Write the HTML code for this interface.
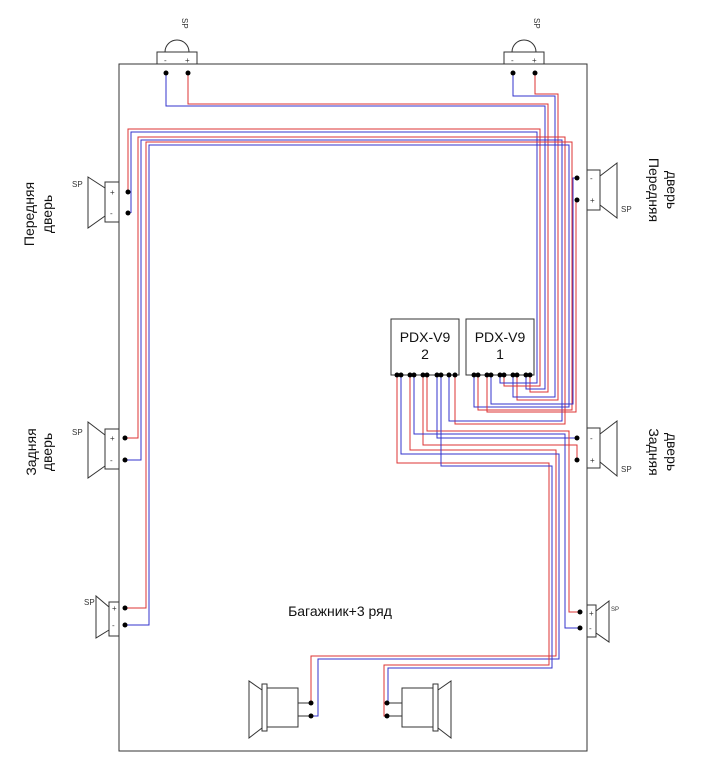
<!DOCTYPE html>
<html><head><meta charset="utf-8"><style>
body{margin:0;background:#fff}
svg{display:block;font-family:"Liberation Sans",sans-serif}
</style></head><body>
<svg width="706" height="769" viewBox="0 0 706 769" xmlns="http://www.w3.org/2000/svg">
<g fill="none" stroke="#333" stroke-width="1">
<rect x="119" y="64" width="468" height="687"/>
<!-- top tweeters -->
<rect x="157" y="52" width="40" height="12" fill="#fff"/>
<path d="M165 52 A12 12 0 0 1 189 52"/>
<rect x="504" y="52" width="40" height="12" fill="#fff"/>
<path d="M512 52 A12 12 0 0 1 536 52"/>
<!-- left front -->
<rect x="105" y="182" width="14" height="40" fill="#fff"/>
<path d="M105 188 L88 177 L88 228 L105 216"/>
<!-- left rear -->
<rect x="105" y="429" width="14" height="40" fill="#fff"/>
<path d="M105 435 L88 422 L88 478 L105 466"/>
<!-- left 3 -->
<rect x="109" y="602" width="10" height="34" fill="#fff"/>
<path d="M109 607 L96 596 L96 638 L109 630"/>
<!-- right front -->
<rect x="587" y="170" width="13" height="40" fill="#fff"/>
<path d="M600 176 L617 163 L617 218 L600 205"/>
<!-- right rear -->
<rect x="587" y="428" width="13" height="40" fill="#fff"/>
<path d="M600 434 L617 421 L617 476 L600 462"/>
<!-- right 3 -->
<rect x="587" y="605" width="9" height="32" fill="#fff"/>
<path d="M596 611 L609 601 L609 642 L596 633"/>
<!-- bottom trunk -->
<rect x="267" y="688" width="31" height="39" fill="#fff"/>
<rect x="262" y="684" width="5" height="47" fill="#fff"/>
<path d="M262 690 L249 681 L249 738 L262 728"/>
<path d="M298 703 H311 M298 716 H311"/>
<rect x="402" y="688" width="31" height="39" fill="#fff"/>
<rect x="433" y="684" width="5" height="47" fill="#fff"/>
<path d="M438 690 L451 681 L451 738 L438 728"/>
<path d="M387 703 H402 M387 716 H402"/>
<!-- PDX boxes -->
<rect x="391" y="319" width="68" height="56" fill="#fff"/>
<rect x="466" y="319" width="68" height="56" fill="#fff"/>
</g>
<g font-size="8" fill="#333">
<text x="164" y="63">-</text><text x="185" y="63">+</text>
<text x="511" y="63">-</text><text x="532" y="63">+</text>
<text x="110" y="195">+</text><text x="110" y="216">-</text>
<text x="110" y="441">+</text><text x="110" y="463">-</text>
<text x="112" y="611">+</text><text x="112" y="628">-</text>
<text x="590" y="181">-</text><text x="590" y="203">+</text>
<text x="590" y="441">-</text><text x="590" y="463">+</text>
<text x="589" y="616">+</text><text x="589" y="631">-</text>
</g>
<g font-size="8" fill="#333">
<text x="72" y="187">SP</text><text x="72" y="435">SP</text><text x="84" y="605">SP</text>
<text x="621" y="212">SP</text><text x="621" y="472">SP</text><text x="611" y="611" font-size="6">SP</text>
<text transform="translate(182,18) rotate(90)">SP</text>
<text transform="translate(534,18) rotate(90)">SP</text>
</g>
<g font-size="14" fill="#111" text-anchor="middle">
<text x="425" y="342">PDX-V9</text><text x="425" y="359">2</text>
<text x="500" y="342">PDX-V9</text><text x="500" y="359">1</text>
<text x="340" y="616">Багажник+3 ряд</text>
<text transform="translate(34,214) rotate(-90)">Передняя</text>
<text transform="translate(52,214) rotate(-90)">дверь</text>
<text transform="translate(36,452) rotate(-90)">Задняя</text>
<text transform="translate(52,452) rotate(-90)">дверь</text>
<text transform="translate(649,190) rotate(90)">Передняя</text>
<text transform="translate(667,190) rotate(90)">дверь</text>
<text transform="translate(649,452) rotate(90)">Задняя</text>
<text transform="translate(667,452) rotate(90)">дверь</text>
</g>
<g fill="none" stroke-width="1">
<!-- top-left tweeter -> PDX1 -->
<path stroke="#d33" d="M188 73 V104 H548 V392 H530 V375"/>
<path stroke="#33c" d="M166 73 V106 H545 V389 H526 V375"/>
<!-- top-right tweeter -->
<path stroke="#d33" d="M535 73 V94 H558 V400 H517 V375"/>
<path stroke="#33c" d="M513 73 V96 H555 V397 H513 V375"/>
<!-- left front -->
<path stroke="#d33" d="M128 192 V129 H540 V386 H504 V375"/>
<path stroke="#33c" d="M131 213 V132 H537 V383 H500 V375"/>
<!-- left rear -->
<path stroke="#d33" d="M125 438 H138 V137 H565 V424 H455 V375"/>
<path stroke="#33c" d="M125 460 H141 V140 H562 V421 H449 V375"/>
<!-- left 3 -->
<path stroke="#d33" d="M125 608 H146 V142 H572 V410 H478 V375"/>
<path stroke="#33c" d="M125 625 H149 V145 H569 V407 H474 V375"/>
<!-- right front -->
<path stroke="#33c" d="M577 178 H573 V404 H491 V375" />
<path stroke="#d33" d="M577 200 H576 V412 H487 V375"/>
<!-- right rear -->
<path stroke="#33c" d="M577 438 H437 V375"/>
<path stroke="#d33" d="M577 460 V445 H423 V375"/>
<!-- right 3 -->
<path stroke="#d33" d="M580 612 H569 V431 H427 V375"/>
<path stroke="#33c" d="M580 628 H565 V434 H414 V375"/>
<!-- trunk left -->
<path stroke="#d33" d="M311 703 V656 H556 V450 H410 V375"/>
<path stroke="#33c" d="M311 716 H318 V659 H559 V454 H401 V375"/>
<!-- trunk right -->
<path stroke="#d33" d="M387 716 H384 V665 H549 V463 H397 V375"/>
<path stroke="#33c" d="M387 703 H388 V668 H552 V466 H441 V375"/>
</g>
<g fill="#000">
<circle cx="166" cy="73" r="2.5"/><circle cx="188" cy="73" r="2.5"/>
<circle cx="513" cy="73" r="2.5"/><circle cx="535" cy="73" r="2.5"/>
<circle cx="128" cy="192" r="2.5"/><circle cx="128" cy="213" r="2.5"/>
<circle cx="125" cy="438" r="2.5"/><circle cx="125" cy="460" r="2.5"/>
<circle cx="125" cy="608" r="2.5"/><circle cx="125" cy="625" r="2.5"/>
<circle cx="577" cy="178" r="2.5"/><circle cx="577" cy="200" r="2.5"/>
<circle cx="577" cy="438" r="2.5"/><circle cx="577" cy="460" r="2.5"/>
<circle cx="580" cy="612" r="2.5"/><circle cx="580" cy="628" r="2.5"/>
<circle cx="311" cy="703" r="2.5"/><circle cx="311" cy="716" r="2.5"/>
<circle cx="387" cy="703" r="2.5"/><circle cx="387" cy="716" r="2.5"/>
<circle cx="397" cy="375" r="2.5"/><circle cx="401" cy="375" r="2.5"/>
<circle cx="410" cy="375" r="2.5"/><circle cx="414" cy="375" r="2.5"/>
<circle cx="423" cy="375" r="2.5"/><circle cx="427" cy="375" r="2.5"/>
<circle cx="437" cy="375" r="2.5"/><circle cx="441" cy="375" r="2.5"/>
<circle cx="449" cy="375" r="2.5"/><circle cx="455" cy="375" r="2.5"/>
<circle cx="474" cy="375" r="2.5"/><circle cx="478" cy="375" r="2.5"/>
<circle cx="487" cy="375" r="2.5"/><circle cx="491" cy="375" r="2.5"/>
<circle cx="500" cy="375" r="2.5"/><circle cx="504" cy="375" r="2.5"/>
<circle cx="513" cy="375" r="2.5"/><circle cx="517" cy="375" r="2.5"/>
<circle cx="526" cy="375" r="2.5"/><circle cx="530" cy="375" r="2.5"/>
</g>
</svg>
</body></html>
